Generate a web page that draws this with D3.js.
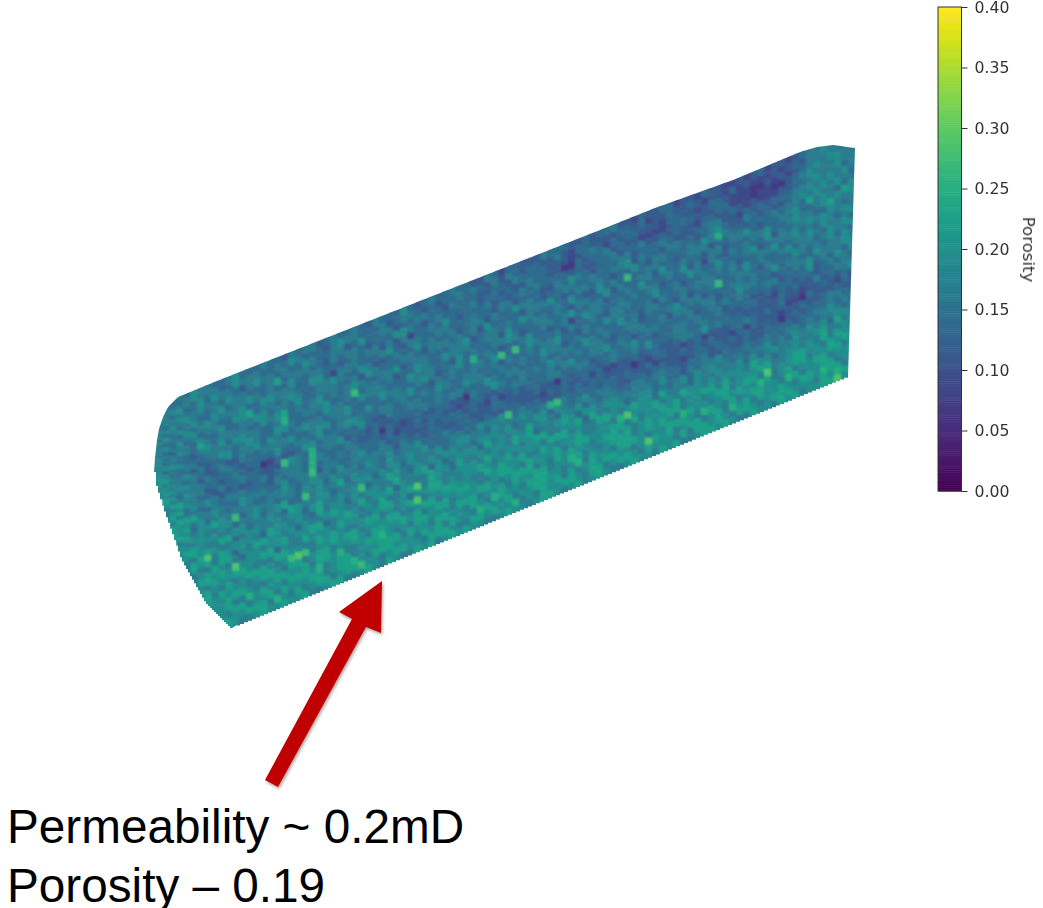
<!DOCTYPE html>
<html>
<head>
<meta charset="utf-8">
<script src="https://cdn.jsdelivr.net/npm/d3@7"></script>
<style>
  html, body { margin: 0; padding: 0; background: #fff; }
  svg { display: block; }
</style>
</head>
<body>
<div id="chart"></div>
<script>
// porosity, one string per voxel row from the top edge down,
// each digit is an index into porosityLevels (spaces only make counting easier)
const porosityLevels = [0.065, 0.09, 0.115, 0.14, 0.165, 0.195, 0.225, 0.25, 0.27, 0.29]
const porosityRows = [
  "4434354433 4533343324 3442343343 2433353234 3343322431 3322243332 2323342213 2233122132 2112123122 1234454444",
  "5433454443 3544433435 4333245443 3342344323 2334343242 4323322421 3322223323 1223223212 2131211121 2324445544",
  "3454435354 4324544343 3543344235 3344233443 3243332233 2433332221 2343132332 2213322123 3211100212 1234544534",
  "4445335443 5443334634 4433243443 2333554323 4333342332 3224332200 3233423221 1112333222 3311101100 2345444453",
  "5534444345 3445434335 3344332343 4424241334 3532333423 2343433332 3223342334 2232322133 2232121112 2334545444",
  "4345543354 4453355444 3355314443 3345324433 4433343324 4233322435 4323334423 3343222334 4221323233 3445454535",
  "3344454543 3556344345 4334454335 4223433534 3342344243 3544323344 3343344524 3324433234 5322432322 3454544365",
  "4553434445 3344553443 5334443342 5433344324 4434342533 3324445323 4434323353 2443334354 7433233343 4436454544",
  "4345553334 4443354563 4345343454 3344523443 3344523443 4354333435 3225343833 4433234442 3344532334 4533456434",
  "5433445435 3554433473 3444533483 4434233543 3544433442 5333443432 4433524334 4253343324 4233344533 4544335455",
  "3544336544 4345433554 3333544335 4443335444 3325343344 5423344345 3344233435 3334352414 3243433524 3445454343",
  "4435434445 5344535433 4544344533 3354433454 2345373432 3345332341 3544334343 4423335433 5333452344 4534354455",
  "5334423333 2243344445 3345534433 5333445332 4343344358 3835433424 3343244433 3533423343 4342334453 3445435443",
  "3545332234 4323333533 4435334554 3344343343 5433443342 4334344533 2433544333 4243343444 3343534334 5344345354",
  "4423344223 3432301322 3553443335 3224334433 4333544334 3343354423 4334335342 4433242334 8334432433 3543434455",
  "5343423432 3343322285 4373445233 2322333343 4344333543 4433343344 3543433442 3334534423 3344343353 4433544435",
  "3445342334 2322342344 4374333432 2303212322 3322043354 3343435433 4344323344 3342443344 2335443323 3445343543",
  "4343544222 4443332434 4373434343 3323122323 3221233223 3443334345 3344534323 4433334234 3434333442 3335234344",
  "5453344343 3354443353 4482443345 3342332223 2333232131 2323334433 4423343453 3233443433 4233322323 3233233445",
  "4344543544 3444334454 3454435344 4444243323 3223322233 2222322032 3332343343 5333443343 3322332213 2322423232",
  "5534444354 4834544344 3545354443 5435344533 3432332322 3322213232 2313112232 3322344353 4333222223 2212232132",
  "3445543445 5344534563 3845446354 4435445453 3344335445 8343322232 3233222202 1332212312 2233432323 1103222322",
  "6344454365 4553445436 5445534445 5354535444 5345544354 4454347843 3332332322 3122232323 2213132221 2232234433",
  "4553545544 6345544545 5356445458 3446543545 4554435554 5344553543 4534432233 2332212332 3232322320 2323334343",
  "5444365456 4555436554 5436455354 5544644563 5345553645 4546454354 5343443344 3443323342 2322322333 3233445434",
  "3656445544 5354665545 3544565446 4556354446 5536445455 4656344565 3554554444 4353324344 5333433433 4434344555",
  "5545635456 6435545564 5566345654 5464456946 5445554654 5545664455 6364455345 5343453545 4434344534 3545453645",
  "4456545646 4955566354 4655546554 4566453556 6454556545 6455546664 5446654565 5364443544 5445353454 4544564454",
  "6544655945 5665444665 5446565445 6645456945 5665544656 5564465455 6445547955 5645465545 4555465534 5545464655",
  "4566545666 5456665458 9845565664 5556644566 4556654456 6546555645 6655566464 5565645566 4645556644 5665546565",
  "5645666455 6554566546 6456645565 4665565645 6645556654 5666454656 5545665645 6556645545 6645664945 5664556646",
  "6455465664 5665445665 5646657445 6675454665 5546664556 4655664557 6454566645 6565476554 5656557645 6455664556",
  "5665544656 6447565546 6657456645 5566646554 6655465476 5546665545 7465546665 4556665476 5464566554 7645566454",
  "4656665445 6664556465 5566456675 4666555465 6465547655 6455665646 4565665545 9656456645 6475646556 5466576645",
  "6544566655 4556664754 6456645668 5545665546 6654466565 5745465566 5466456654 6555464665 6546654566 6555465767",
  "5465445655 6544565565 5644566445 6546544656 4565655445 6554566545 6456544565 5465644566 5654465546 5645566955"
]

const colorbarTicks = [0, 0.05, 0.1, 0.15, 0.2, 0.25, 0.3, 0.35, 0.4]
const colorbarLabel = "Porosity"
const noteLines = ["Permeability ~ 0.2mD", "Porosity \u2013 0.19"]

var width = 1043
var height = 908

var svg = d3.select("#chart").append("svg")
    .attr("width", width)
    .attr("height", height)

var defs = svg.append("defs")
defs.append("filter").attr("id", "soft")
    .attr("x", "-5%").attr("y", "-5%").attr("width", "110%").attr("height", "110%")
    .append("feGaussianBlur").attr("stdDeviation", 1)
defs.append("filter").attr("id", "barSoft")
    .append("feGaussianBlur").attr("stdDeviation", 0.35)
defs.append("filter").attr("id", "shadow")
    .attr("x", "-20%").attr("y", "-20%").attr("width", "140%").attr("height", "140%")
    .append("feDropShadow")
    .attr("dx", 1.2).attr("dy", 2).attr("stdDeviation", 1.5)
    .attr("flood-color", "#000").attr("flood-opacity", 0.35)

var color = d3.scaleSequential(d3.interpolateViridis).domain([0, 0.4])

// outline of the core in the picture: silhouette top and bottom for a given x
var topEdge = d3.scaleLinear()
    .domain([155, 156, 158, 163, 168, 178, 183, 207, 232, 270, 600, 655, 733, 800, 817, 833, 855])
    .range([458, 448, 432, 417, 407, 397, 395, 385, 375, 360, 230, 208, 180, 152, 147, 145, 148])
var bottomEdge = d3.scaleLinear()
    .domain([155, 156, 158, 163, 183, 207, 232, 848])
    .range([462, 472, 486, 503, 560, 603, 628, 377])
    .clamp(true)

var nRows = porosityRows.length
var rows = porosityRows.map(r => r.replace(/ /g, "").split("").map(d => porosityLevels[+d]))
var nCols = rows[0].length
var colX = d3.scaleLinear().domain([0, nCols]).range([155, 855])

// jagged voxel edge along the bottom, smooth curve on top and down the cut end
var outline = d3.range(155, 856, 2).map(x => [x, topEdge(x)])
outline.push([852, 247], [848, 377])
var stairs = []
d3.range(844, 232, -4).forEach(x => {
    stairs.push([x + 4, bottomEdge(x + 2)])
    stairs.push([x, bottomEdge(x + 2)])
})
d3.range(232, 155, -2).forEach(x => {
    stairs.push([x, bottomEdge(x)])
    stairs.push([x - 2, bottomEdge(x)])
})
defs.append("clipPath").attr("id", "coreClip")
    .append("path")
    .attr("d", d3.line()(outline.concat(stairs)) + "Z")

var cells = []
rows.forEach((row, r) => {
    row.forEach((value, c) => cells.push({ r: r, c: c, value: value }))
})

function cellY(d) {
    var x = colX(d.c + 0.5)
    return d3.scaleLinear().domain([0, nRows]).range([topEdge(x), bottomEdge(x)])
}

var core = svg.append("g").attr("clip-path", "url(#coreClip)")
    .append("g").attr("filter", "url(#soft)")

core.selectAll("rect")
    .data(cells)
    .enter().append("rect")
    .attr("x", d => colX(d.c) - (d.c === 0 ? 3 : 0))
    .attr("width", d => colX(1) - colX(0) + 0.4 + (d.c === 0 || d.c === nCols - 1 ? 3 : 0))
    .attr("y", d => cellY(d)(d.r) - (d.r === 0 ? 12 : 0))
    .attr("height", d => {
        var y = cellY(d)
        return y(d.r + 1) - y(d.r) + 0.4 + (d.r === 0 || d.r === nRows - 1 ? 12 : 0)
    })
    .attr("fill", d => color(d.value))

// colorbar
var barY = d3.scaleLinear().domain([0, 0.4]).range([491, 7])
var barX = 938
var barW = 23.5

var bar = svg.append("g").attr("filter", "url(#barSoft)")
bar.selectAll("rect.step")
    .data(d3.range(0, 0.4, 0.4 / 256))
    .enter().append("rect")
    .attr("class", "step")
    .attr("x", barX)
    .attr("width", barW)
    .attr("y", d => barY(d + 0.4 / 256))
    .attr("height", barY(0) - barY(0.4 / 256) + 0.5)
    .attr("fill", d => color(d + 0.2 / 256))
bar.append("rect")
    .attr("x", barX).attr("y", barY(0.4))
    .attr("width", barW).attr("height", barY(0) - barY(0.4))
    .attr("fill", "none")
    .attr("stroke", "#333").attr("stroke-width", 1)

var barAxis = bar.append("g")
    .attr("transform", "translate(" + (barX + barW) + ",0)")
    .call(d3.axisRight(barY).tickValues(colorbarTicks).tickFormat(d3.format(".2f")).tickSize(6).tickPadding(7))
barAxis.select(".domain").remove()
barAxis.selectAll("line").attr("stroke", "#333").attr("stroke-width", 1)
barAxis.selectAll("text")
    .attr("fill", "#333")
    .attr("font-family", "DejaVu Sans")
    .attr("font-size", 15.7)

bar.append("text")
    .attr("transform", "translate(1023,249.5) rotate(90)")
    .attr("text-anchor", "middle")
    .attr("font-family", "DejaVu Sans")
    .attr("font-size", 16.6)
    .attr("fill", "#333")
    .text(colorbarLabel)

// arrow pointing at the sample spot
svg.append("path")
    .attr("d", "M265,780L352,619L339,612L382,581L381,633L366,627L278,787Z")
    .attr("fill", "#c00000")
    .attr("filter", "url(#shadow)")

svg.selectAll("text.note")
    .data(noteLines)
    .enter().append("text")
    .attr("class", "note")
    .attr("x", 7)
    .attr("y", (d, i) => 843 + i * 58.5)
    .attr("font-family", "Liberation Sans")
    .attr("font-size", 47.7)
    .attr("fill", "#000")
    .text(d => d)
</script>
</body>
</html>
